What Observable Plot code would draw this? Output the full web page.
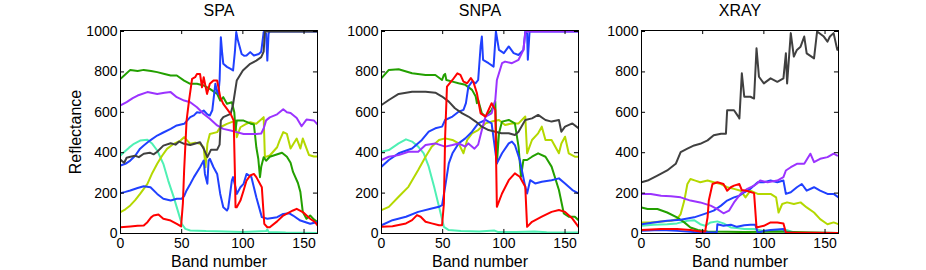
<!DOCTYPE html>
<html><head><meta charset="utf-8">
<script src="https://cdn.jsdelivr.net/npm/d3@7"></script>
<script src="https://cdn.jsdelivr.net/npm/@observablehq/plot@0.6"></script>
<style>
body{margin:0;background:#fff;}
#fig{position:relative;width:926px;height:270px;overflow:hidden;background:#fff;}
#fig svg{position:absolute;top:0;}
</style></head><body><div id="fig"></div>
<script>
// ---------- data: [band, reflectance] ----------
const spaAqua=[[0,386],[3,403],[7,425],[11,444],[16,460],[22,464],[26,444],[30,411],[35,345],[39,262],[43.5,180],[47.6,97],[50,48],[53,23],[57,15],[63,14],[70,12],[78,11],[85,10],[92,9],[100,8],[110,10],[119,12],[120,20],[121,8],[135,5],[150,4],[161,3]];
const spaYellow=[[0,106],[4,120],[8,139],[12,165],[16,196],[22,246],[26,300],[30,345],[34,385],[38,419],[43.5,444],[49,460],[52,477],[57,444],[61,450],[65,444],[68,427],[69.5,328],[71,444],[73,493],[79,502],[81.5,526],[87,543],[94,559],[95,477],[98,526],[102,540],[106,551],[111,543],[117,576],[118,378],[122,386],[128,427],[130,460],[133,502],[136,493],[139,421],[144,470],[147,421],[149,470],[154,389],[158,381],[161,381]];
const spaGreen=[[0,766],[3,782],[8,810],[14,805],[19,810],[25,805],[30,799],[36,790],[41,782],[46,782],[52,757],[57,741],[62.5,741],[68,733],[73,716],[79,691],[81.5,658],[84,675],[87,642],[91,650],[93,600],[94,510],[95,559],[100.6,559],[106,545],[109,540],[110,485],[111,427],[112.6,370],[114,279],[115,330],[117,378],[119,360],[122,380],[127,390],[132,400],[136,380],[139,350],[141,305],[145,250],[147,206],[149,106],[152,73],[155,89],[158,70],[161,56]];
const spaBlueLow=[[0,200],[4,206],[8,213],[14,225],[19,234],[24.5,229],[30,196],[35,172],[41,163],[46,172],[50,172],[52,185],[54,213],[57,245],[60,279],[65,328],[68,361],[69,295],[71,246],[72,361],[73,370],[76,328],[79,295],[81.5,196],[84,130],[87,114],[88,125],[91,262],[92,279],[94,229],[95,196],[98,229],[100.6,246],[103,295],[107,279],[111,180],[115.5,81],[120,73],[128,81],[133,97],[138,100],[141,89],[147,64],[155,48],[161,57]];
const spaBlueUp=[[0,337],[4,345],[8,361],[12,385],[16,420],[19,436],[24,460],[30,485],[35,500],[41,518],[46,535],[52,543],[57,576],[60,585],[62.5,600],[65,598],[68,609],[71,590],[73,584],[75,610],[77.5,741],[79,700],[80,690],[81,760],[82,972],[83,900],[84,840],[87,825],[90,815],[92,807],[93.5,900],[94.6,997],[96,955],[99,889],[101,880],[103,881],[106,898],[109,881],[113,889],[115,900],[117,997],[119,990],[120,856],[121,990],[122,1000],[161,1000]];
const spaPurple=[[0,634],[5,650],[10,670],[14,683],[22,700],[30,691],[36,697],[41,700],[46,675],[52,658],[57,650],[62.5,625],[68,592],[73,568],[79,535],[84,518],[90,510],[95,502],[100.6,493],[106,493],[111,493],[115,495],[117,520],[119,560],[122,575],[128,590],[133,615],[136,600],[139,597],[144,572],[148,531],[152,564],[158,560],[161,540]];
const spaGray=[[0,365],[3,350],[5,375],[8,380],[12,385],[15,378],[19,395],[24,400],[27,392],[30,405],[35,435],[41,447],[45,440],[48,455],[52,444],[57,438],[62,447],[65,452],[68,420],[71,378],[74,415],[79,415],[81,440],[82,560],[84,576],[90,592],[92,640],[95,757],[100,807],[106,840],[111,856],[115,873],[117,900],[118,1000],[161,1000]];
const spaRed=[[0,31],[8,35],[14,38],[19,40],[22,56],[25,80],[27,89],[31,94],[35,73],[41,64],[46,48],[49.5,35],[51,150],[52,312],[54,559],[56,658],[58.5,766],[61,774],[62.5,790],[65,790],[66.6,724],[68,774],[70.7,691],[73,741],[76,757],[79,757],[81.5,675],[84,642],[90,592],[92.5,559],[93.5,300],[94,130],[95,130],[98,163],[100.6,213],[103,262],[106,287],[109,295],[111,279],[115.5,229],[117.5,48],[120,31],[122,31],[128,60],[133,89],[141,114],[144,122],[149,106],[155,73],[159,56],[161,40]];

const snpaAqua=[[0,405],[6,413],[14,446],[20,466],[25,455],[30,430],[34.5,397],[38.6,331],[43,231],[47,132],[51,33],[55,17],[65,12],[80,10],[92,15],[95,8],[110,8],[125,10],[135,6],[161,5]];
const snpaYellow=[[0,116],[6,132],[14,182],[22,231],[30,314],[36,380],[41,430],[47,463],[52,471],[58,463],[63,446],[67,397],[70,463],[74,496],[79,512],[85,545],[90,554],[96,562],[101,537],[106.6,545],[112,545],[117.5,579],[119,397],[123,463],[128,496],[131,529],[134,463],[139,463],[145,397],[147,446],[150,479],[153,397],[158,380],[161,380]];
const snpaGreen=[[0,769],[6,810],[14,813],[25,793],[36,785],[44,785],[49.5,760],[51,785],[52,790],[53,760],[58,752],[63,744],[68.5,736],[74,711],[77,678],[78,645],[79,661],[82,595],[85,579],[90,612],[93,653],[94.3,347],[96,496],[98.5,554],[104,562],[109,545],[112,430],[114,281],[116,364],[119,364],[123,380],[128,397],[134,380],[139,331],[145,215],[149,99],[153,83],[158,83],[161,66]];
const snpaBlueLow=[[0,41],[9,66],[20,83],[30,107],[41,124],[47,132],[49.5,140],[52,231],[55,347],[58,397],[63,446],[68.5,471],[74,504],[79,545],[85,562],[90,545],[94.3,347],[98.5,397],[104,446],[106.6,455],[109,438],[113,364],[117.5,231],[119,198],[121.5,264],[125.6,248],[131,256],[139,264],[145,273],[150,248],[156,215],[161,198]];
const snpaBlueUp=[[0,331],[6,364],[14,397],[25,421],[33,463],[38.6,504],[44,521],[49.5,529],[52,562],[58,579],[63,603],[67,612],[69,645],[71,727],[74,752],[77,744],[79,760],[81,926],[82,975],[83,860],[87.5,843],[91.6,826],[93.5,1000],[96,909],[100,893],[104,926],[108,893],[112,884],[116,909],[117.5,1000],[119,990],[119.6,860],[121,1000],[161,1000]];
const snpaPurple=[[0,364],[6,380],[14,388],[22,405],[30,405],[36,438],[44,446],[52,430],[58,438],[63,446],[68.5,430],[71,446],[76,420],[79,440],[82,512],[85,579],[90,595],[93,661],[94.3,760],[98.5,843],[101,851],[106.6,843],[112,860],[116,909],[117.5,992],[118,1000],[161,1000]];
const snpaGray=[[0,636],[6,661],[14,691],[25,702],[36,702],[44,697],[49.5,678],[55,653],[60,620],[66,595],[71,579],[77,554],[82,529],[87.5,512],[93,504],[98,496],[104,496],[109,488],[112,504],[117.5,562],[123,570],[128,587],[134,562],[139,554],[145,562],[147,504],[150,529],[156,545],[161,521]];
const snpaRed=[[0,33],[9,36],[20,50],[25,66],[29,91],[32,83],[36,58],[41,50],[47,41],[49.5,41],[51,149],[52,479],[53.5,727],[58,760],[62,793],[64.5,785],[67,752],[70,744],[73,769],[75,752],[78,694],[81,595],[85,579],[90,645],[93,612],[94.3,132],[98.5,198],[104,264],[109,298],[113,281],[117.5,231],[119,33],[123,58],[131,83],[139,107],[145,116],[150,107],[156,74],[161,33]];

const xrayAqua=[[0,38],[10,43],[21,46],[29,50],[37.5,63],[43,66],[48,46],[52,38],[56.5,55],[62,60],[67,50],[73,30],[78,27],[84,22],[92,22],[100,13],[116,13],[119,17],[124.5,5],[161,3]];
const xrayYellow=[[0,55],[7.6,55],[16,60],[24,63],[29,71],[32,96],[35,163],[37.5,245],[40,270],[44,262],[48,254],[54,262],[59,254],[65,245],[70,229],[75.6,221],[81,212],[85,179],[89,212],[95,196],[100,196],[105.5,196],[110,179],[112,104],[115,146],[119,154],[124.5,146],[130,154],[135,129],[141,104],[146,71],[152,46],[157,55],[161,46]];
const xrayGreen=[[0,129],[5,121],[13,121],[21,104],[29,80],[35,55],[40,30],[46,17],[54,10],[70,9],[84,7],[111,10],[138,5],[161,3]];
const xrayBlueLow=[[0,13],[16,17],[29,13],[43,8],[56.5,5],[61.5,5],[62,46],[67,38],[73,43],[78,33],[84,41],[89,43],[93,43],[95,3],[100,13],[105.5,17],[111,20],[116,22],[118,5],[127,3],[161,3]];
const xrayBlueUp=[[0,46],[10,55],[21,63],[32,68],[43,80],[51,96],[59,113],[65,138],[70,163],[75.6,179],[80,187],[84,204],[89,221],[95,254],[100,254],[105.5,262],[111,254],[116,262],[118,196],[122,204],[127,229],[131,245],[135,212],[141,229],[146,212],[152,196],[157,196],[161,179]];
const xrayPurple=[[0,196],[7.6,196],[16,187],[24,184],[32,179],[40,163],[48,154],[56.5,138],[62,121],[67,100],[71.5,113],[75.6,154],[81,196],[86.5,221],[92,237],[94,245],[97,262],[103,254],[111,262],[116,279],[118,312],[122,328],[127,345],[133,345],[138,395],[141,353],[146,370],[152,378],[157,395],[160,386]];
const xrayGray=[[0,254],[5,262],[13,287],[21,312],[28,345],[32,403],[37.5,420],[43,436],[48,444],[54,461],[59,486],[65,494],[69,494],[70,610],[75.6,610],[79,580],[80,569],[82,793],[84,677],[89,677],[92,668],[94,917],[96,776],[100,743],[105.5,768],[111,751],[116,768],[118,892],[119,743],[122,992],[124.5,876],[127,909],[130,925],[133,975],[135,892],[141,867],[143.5,1000],[149,975],[152,950],[154,975],[157,992],[160,909],[161,920]];
const xrayRed=[[0,17],[16,22],[29,22],[40,17],[48,10],[52,10],[54,80],[55,163],[58,245],[62,254],[67,245],[70,212],[73,229],[75.6,237],[80,245],[82,215],[86.5,210],[92,200],[94,30],[100,38],[105.5,55],[111,55],[116,50],[118,5],[161,3]];

const titles=["SPA","SNPA","XRAY"];
const xTicks=[0,50,100,150];
const yTicks=[0,200,400,600,800,1000];
const seriesNames=["aqua","yellow","green","blueLow","blueUp","purple","gray","red"];
const seriesColors=["#4ff0b4","#b4d800","#23a000","#2040ff","#2040ff","#9b33ff","#404040","#ff0000"];
const panelLines=[
  [spaAqua,spaYellow,spaGreen,spaBlueLow,spaBlueUp,spaPurple,spaGray,spaRed],
  [snpaAqua,snpaYellow,snpaGreen,snpaBlueLow,snpaBlueUp,snpaPurple,snpaGray,snpaRed],
  [xrayAqua,xrayYellow,xrayGreen,xrayBlueLow,xrayBlueUp,xrayPurple,xrayGray,xrayRed]
];
const panelLefts=[60,321,581];
const font='"Liberation Sans", Arial, Helvetica, sans-serif';
const fig=document.getElementById("fig");

panelLines.forEach((lines,i)=>{
  const data=lines.flatMap((arr,k)=>arr.map(([b,v])=>({band:b,value:v,series:seriesNames[k]})));
  const chart=Plot.plot({
    width:261,height:270,marginLeft:60,marginRight:4,marginTop:30,marginBottom:37,
    style:{fontFamily:font,fontSize:"14px",color:"#000",background:"transparent",overflow:"visible"},
    x:{domain:[0,161]},
    y:{domain:[0,1005]},
    color:{domain:seriesNames,range:seriesColors},
    marks:[
      Plot.lineY(data,{x:"band",y:"value",z:"series",stroke:"series",strokeWidth:2,strokeLinejoin:"round",clip:true}),
      Plot.frame({stroke:"#000",strokeWidth:1}),
      Plot.ruleX(xTicks,{x:d=>d,y1:0,y2:20,stroke:"#000"}),
      Plot.ruleX(xTicks,{x:d=>d,y1:985,y2:1005,stroke:"#000"}),
      Plot.ruleY(yTicks,{y:d=>d,x1:0,x2:3.3,stroke:"#000"}),
      Plot.ruleY(yTicks,{y:d=>d,x1:157.7,x2:161,stroke:"#000"}),
      Plot.axisX({ticks:xTicks,tickSize:0,tickPadding:5,label:null,fontSize:14,tickFormat:d=>String(d)}),
      Plot.axisY({ticks:yTicks,tickSize:0,tickPadding:3,label:null,fontSize:14,tickFormat:d=>String(d)}),
      Plot.text([titles[i]],{frameAnchor:"top",lineAnchor:"middle",dy:-20,fontSize:16,fill:"#000"}),
      Plot.text(["Band number"],{frameAnchor:"bottom",lineAnchor:"middle",dy:28,fontSize:16,fill:"#000"}),
      i===0?Plot.text(["Reflectance"],{frameAnchor:"left",textAnchor:"middle",lineAnchor:"middle",rotate:-90,dx:-45,fontSize:16,fill:"#000"}):null
    ]
  });
  chart.style.left=panelLefts[i]+"px";
  fig.append(chart);
});
</script></body></html>
